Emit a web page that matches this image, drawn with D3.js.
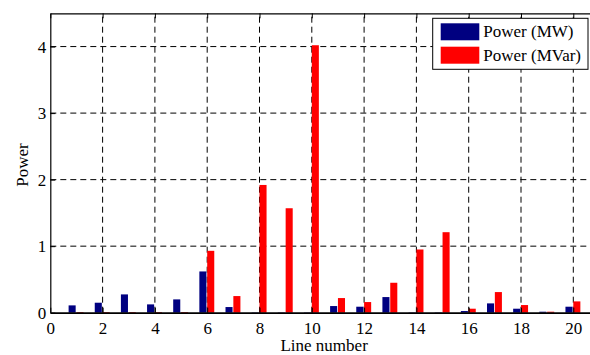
<!DOCTYPE html>
<html>
<head>
<meta charset="utf-8">
<script src="https://cdn.jsdelivr.net/npm/d3@7"></script>
<style>
  body { margin: 0; background: #fff; }
  svg text { font-family: "Liberation Serif", Tinos, "Times New Roman", Times, "DejaVu Serif", serif; font-size: 17px; fill: #000; }
</style>
</head>
<body>
<svg width="590" height="355"></svg>
<script>
// line numbers and the two power components
const lines = d3.range(1, 21);
const powerMW = [0.11, 0.15, 0.275, 0.125, 0.2, 0.62, 0.085, 0.005, 0.005, 0.005,
  0.1, 0.09, 0.235, 0.005, 0.005, 0.025, 0.14, 0.06, 0.015, 0.09];
const powerMVar = [0.01, 0.01, 0.01, 0.01, 0.01, 0.93, 0.25, 1.92, 1.57, 4.02,
  0.22, 0.16, 0.45, 0.95, 1.21, 0.06, 0.31, 0.115, 0.015, 0.17];
const xTicks = d3.range(0, 21, 2);
const yTicks = [0, 1, 2, 3, 4];
const seriesNames = ['Power (MW)', 'Power (MVar)'];
const seriesColors = ['#000080', '#ff0000'];

const svg = d3.select('svg');
const plotLeft = 50.3;
const plotTop = 13.3;
const plotBottom = 312.7;

// the axes box runs past the right edge of the picture (x = 21)
const x = d3.scaleLinear().domain([0, 21]).range([plotLeft, plotLeft + 21 * 26.15]);
const y = d3.scaleLinear().domain([0, 4.5]).range([plotBottom, plotTop]);
const plotRight = x(21);

// dashed grid
const grid = svg.append('g')
  .attr('stroke', '#000')
  .attr('stroke-width', 1)
  .attr('stroke-dasharray', '6,4');
grid.selectAll('.gx')
  .data(xTicks.filter((d) => d > 0))
  .enter()
  .append('line')
  .attr('x1', (d) => x(d))
  .attr('x2', (d) => x(d))
  .attr('y1', plotBottom)
  .attr('y2', plotTop);
grid.selectAll('.gy')
  .data(yTicks.filter((d) => d > 0))
  .enter()
  .append('line')
  .attr('x1', plotLeft)
  .attr('x2', plotRight)
  .attr('y1', (d) => y(d))
  .attr('y2', (d) => y(d));

// bars: MW just left of the line number, MVar just right of it
const barWidth = 0.27;
const offsets = [-0.3, 0.0];
[powerMW, powerMVar].forEach((values, i) => {
  svg.append('g')
    .selectAll('rect')
    .data(values)
    .enter()
    .append('rect')
    .attr('x', (d, j) => x(lines[j] + offsets[i]))
    .attr('width', x(barWidth) - x(0))
    .attr('y', (d) => y(d))
    .attr('height', (d) => y(0) - y(d))
    .attr('fill', seriesColors[i]);
});

// axes with inward ticks, box on
const tickLen = 5;
const xAxisBottom = d3.axisBottom(x).tickValues(xTicks).tickFormat(d3.format('d'))
  .tickSizeInner(-tickLen).tickSizeOuter(0).tickPadding(9);
const xAxisTop = d3.axisTop(x).tickValues(xTicks).tickFormat('')
  .tickSizeInner(-tickLen).tickSizeOuter(0);
const yAxisLeft = d3.axisLeft(y).tickValues(yTicks).tickFormat(d3.format('d'))
  .tickSizeInner(-tickLen).tickSizeOuter(0).tickPadding(4);

const gxb = svg.append('g').attr('transform', `translate(0,${plotBottom})`).call(xAxisBottom);
const gxt = svg.append('g').attr('transform', `translate(0,${plotTop})`).call(xAxisTop);
const gyl = svg.append('g').attr('transform', `translate(${plotLeft},0)`).call(yAxisLeft);

[gxb, gxt, gyl].forEach((g) => {
  g.attr('font-family', null).attr('font-size', null);
  g.select('.domain').attr('stroke', '#000').attr('stroke-width', 1.2);
  g.selectAll('.tick line').attr('stroke', '#000');
});
gxb.select('.domain').attr('stroke-width', 1.8);
gyl.selectAll('.tick text').attr('dy', '0.34em');

// axis titles
svg.append('text')
  .attr('x', (plotLeft + 590) / 2 + 4)
  .attr('y', 351)
  .attr('text-anchor', 'middle')
  .text('Line number');

svg.append('text')
  .attr('transform', `translate(27.5,${(plotTop + plotBottom) / 2 + 2}) rotate(-90)`)
  .attr('text-anchor', 'middle')
  .text('Power');

// legend
const legend = svg.append('g');
legend.append('rect')
  .attr('x', 432.7)
  .attr('y', 18.3)
  .attr('width', 155.3)
  .attr('height', 51)
  .attr('fill', '#fff')
  .attr('stroke', '#000')
  .attr('stroke-width', 1);

const entries = legend.selectAll('.entry')
  .data(seriesNames)
  .enter()
  .append('g')
  .attr('transform', (d, i) => `translate(440.7,${23.3 + i * 23.4})`);
entries.append('rect')
  .attr('width', 38.6)
  .attr('height', 17)
  .attr('fill', (d, i) => seriesColors[i]);
entries.append('text')
  .attr('x', 42.6)
  .attr('y', 14)
  .text((d) => d);
</script>
</body>
</html>
